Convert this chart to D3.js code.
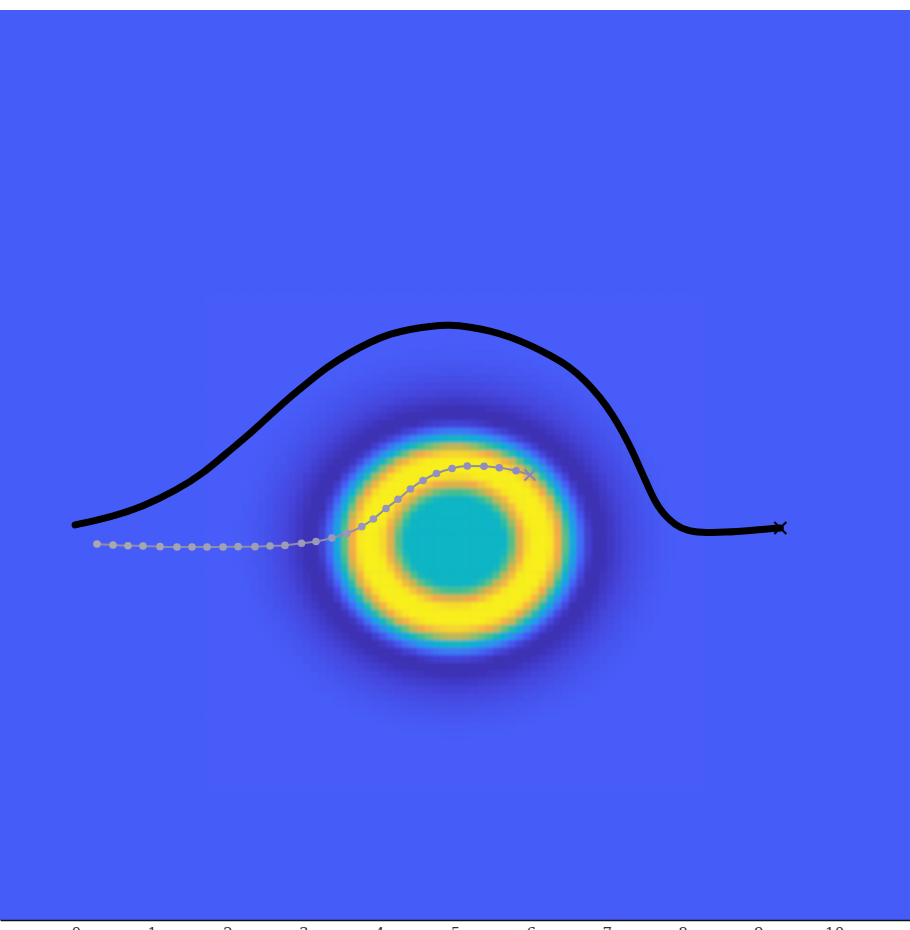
<!DOCTYPE html>
<html>
<head>
<meta charset="utf-8">
<script src="https://cdn.jsdelivr.net/npm/d3@7"></script>
<style>
  body { margin: 0; background: #fff; overflow: hidden; }
</style>
</head>
<body>
<svg id="chart" width="910" height="930"></svg>
<script>
// ring shaped field, read as a radial profile from the picture
var ringCenter = [5, 4.0]
var ringAspect = 0.89            // vertical radius / horizontal radius
var profileRadius = [0, 0.66, 0.765, 0.87, 0.93, 1.0, 1.22, 1.29, 1.37, 1.45, 1.53, 1.59, 1.65, 1.72, 1.82, 1.95, 2.12, 2.32, 2.52, 2.72, 2.90]
var profileValue  = [0.47, 0.47, 0.62, 0.82, 0.90, 0.96, 0.97, 0.92, 0.82, 0.62, 0.45, 0.32, 0.20, 0.08, 0.015, 0.015, 0.05, 0.09, 0.12, 0.14, 0.15]
var backgroundValue = 0.15

// long (black) trajectory
var pathX = [-0.01, 0.45, 0.885, 1.33, 1.68, 1.99, 2.26, 2.52, 2.78, 3.05, 3.31, 3.61, 3.88, 4.14, 4.41, 4.67, 4.93, 5.20, 5.46, 5.73, 5.99, 6.25, 6.52, 6.71, 6.91, 7.08, 7.23, 7.35, 7.45, 7.55, 7.64, 7.76, 7.90, 8.07, 8.23, 8.56, 8.93, 9.29]
var pathY = [4.21, 4.31, 4.45, 4.67, 4.89, 5.16, 5.38, 5.62, 5.86, 6.08, 6.29, 6.48, 6.62, 6.73, 6.79, 6.83, 6.85, 6.82, 6.77, 6.69, 6.58, 6.45, 6.29, 6.12, 5.90, 5.66, 5.40, 5.16, 4.93, 4.71, 4.51, 4.34, 4.21, 4.13, 4.11, 4.11, 4.14, 4.17]

// short (grey) trajectory
var grayX = [0.279, 0.490, 0.688, 0.886, 1.110, 1.334, 1.532, 1.730, 1.941, 2.139, 2.363, 2.561, 2.758, 2.976, 3.167, 3.378, 3.572, 3.770, 3.923, 4.090, 4.249, 4.413, 4.578, 4.756, 4.961, 5.162, 5.383, 5.584, 5.805, 5.989]
var grayY = [3.958, 3.945, 3.936, 3.932, 3.923, 3.919, 3.919, 3.919, 3.919, 3.923, 3.923, 3.932, 3.940, 3.968, 3.991, 4.038, 4.097, 4.187, 4.288, 4.427, 4.548, 4.684, 4.796, 4.888, 4.954, 4.987, 4.983, 4.963, 4.924, 4.868]

var tickValues = [0, 1, 2, 3, 4, 5, 6, 7, 8, 9, 10]

var width = 910, height = 930
var plot = {left: 0, right: 910, top: 10, bottom: 920}

var svg = d3.select('#chart')

var x = d3.scaleLinear().domain([-1, 11]).range([plot.left, plot.right])
var y = d3.scaleLinear().domain([-1, 11]).range([plot.bottom, plot.top])

// parula like colour ramp
var color = d3.scaleLinear()
  .domain([0, 0.07, 0.15, 0.25, 0.35, 0.45, 0.55, 0.65, 0.75, 0.83, 0.9, 0.96, 1])
  .range(['#3b2aa8', '#4444da', '#465cf8', '#3a80f5', '#1e9ee8', '#08b2d0', '#2ebf9a', '#7ac070', '#d2b44c', '#f5a947', '#f7cf33', '#f8ee1c', '#f8f416'])
  .clamp(true)

var profile = d3.scaleLinear().domain(profileRadius).range(profileValue).clamp(true)

svg.append('defs').append('clipPath').attr('id', 'plotClip')
  .append('rect')
  .attr('x', plot.left).attr('y', plot.top)
  .attr('width', plot.right - plot.left).attr('height', plot.bottom - plot.top)

svg.append('defs').append('filter').attr('id', 'soft')
  .attr('x', '-5%').attr('y', '-5%').attr('width', '110%').attr('height', '110%')
  .append('feGaussianBlur').attr('stdDeviation', 1.6)

var plotArea = svg.append('g').attr('clip-path', 'url(#plotClip)')

plotArea.append('rect')
  .attr('x', plot.left).attr('y', plot.top)
  .attr('width', plot.right - plot.left).attr('height', plot.bottom - plot.top)
  .attr('fill', color(backgroundValue))

// heat map cells around the ring
var step = 0.1
var cells = []
for (var i = 0; i < 66; i++) {
  for (var j = 0; j < 66; j++) {
    var cx = ringCenter[0] - 3.3 + i * step
    var cy = ringCenter[1] - 3.3 + j * step
    var dx = cx + step / 2 - ringCenter[0]
    var dy = (cy + step / 2 - ringCenter[1]) / ringAspect
    cells.push({x0: cx, y0: cy, v: profile(Math.sqrt(dx * dx + dy * dy))})
  }
}

plotArea.append('g')
  .attr('filter', 'url(#soft)')
  .selectAll('rect')
  .data(cells)
  .enter()
  .append('rect')
  .attr('x', function(d){ return x(d.x0) })
  .attr('y', function(d){ return y(d.y0 + step) })
  .attr('width', x(step) - x(0) + 0.6)
  .attr('height', y(0) - y(step) + 0.6)
  .attr('fill', function(d){ return color(d.v) })

// black trajectory
var blackPts = pathX.map(function(v, k){ return [v, pathY[k]] })
var smoothLine = d3.line()
  .x(function(d){ return x(d[0]) })
  .y(function(d){ return y(d[1]) })
  .curve(d3.curveBasis)

var line = d3.line()
  .x(function(d){ return x(d[0]) })
  .y(function(d){ return y(d[1]) })
  .curve(d3.curveMonotoneX)

plotArea.append('path')
  .datum(blackPts)
  .attr('d', smoothLine)
  .attr('fill', 'none')
  .attr('stroke', '#000')
  .attr('stroke-width', 7)
  .attr('stroke-linecap', 'round')
  .attr('stroke-linejoin', 'round')

function cross(g, p, size, stroke, sw) {
  var px = x(p[0]), py = y(p[1])
  g.append('path')
    .attr('d', 'M' + (px - size) + ',' + (py - size) + 'L' + (px + size) + ',' + (py + size) +
               'M' + (px - size) + ',' + (py + size) + 'L' + (px + size) + ',' + (py - size))
    .attr('stroke', stroke)
    .attr('stroke-width', sw)
    .attr('fill', 'none')
}
cross(plotArea, blackPts[blackPts.length - 1], 6, '#000', 2)

// grey trajectory
var grayPts = grayX.map(function(v, k){ return [v, grayY[k]] })
var grayColor = d3.scaleLinear().domain([0, grayPts.length - 1]).range(['#a9a9ad', '#8c88c6'])

plotArea.append('path')
  .datum(grayPts)
  .attr('d', line)
  .attr('fill', 'none')
  .attr('stroke', '#8e8ea4')
  .attr('stroke-width', 2)

plotArea.append('g')
  .selectAll('circle')
  .data(grayPts.slice(0, grayPts.length - 1))
  .enter()
  .append('circle')
  .attr('cx', function(d){ return x(d[0]) })
  .attr('cy', function(d){ return y(d[1]) })
  .attr('r', 3.8)
  .attr('fill', function(d, k){ return grayColor(k) })

cross(plotArea, grayPts[grayPts.length - 1], 5.5, '#8a84bc', 2)

// x axis, labels mostly below the window
var axis = svg.append('g')
  .attr('transform', 'translate(0,' + plot.bottom + ')')
  .call(d3.axisBottom(x).tickValues(tickValues).tickSize(0).tickPadding(7).tickFormat(d3.format('d')))

axis.select('.domain').attr('stroke', '#111').attr('stroke-width', 1.5)
axis.selectAll('text')
  .attr('font-family', 'DejaVu Serif, serif')
  .attr('font-size', 15)
  .attr('fill', '#333')
</script>
</body>
</html>
